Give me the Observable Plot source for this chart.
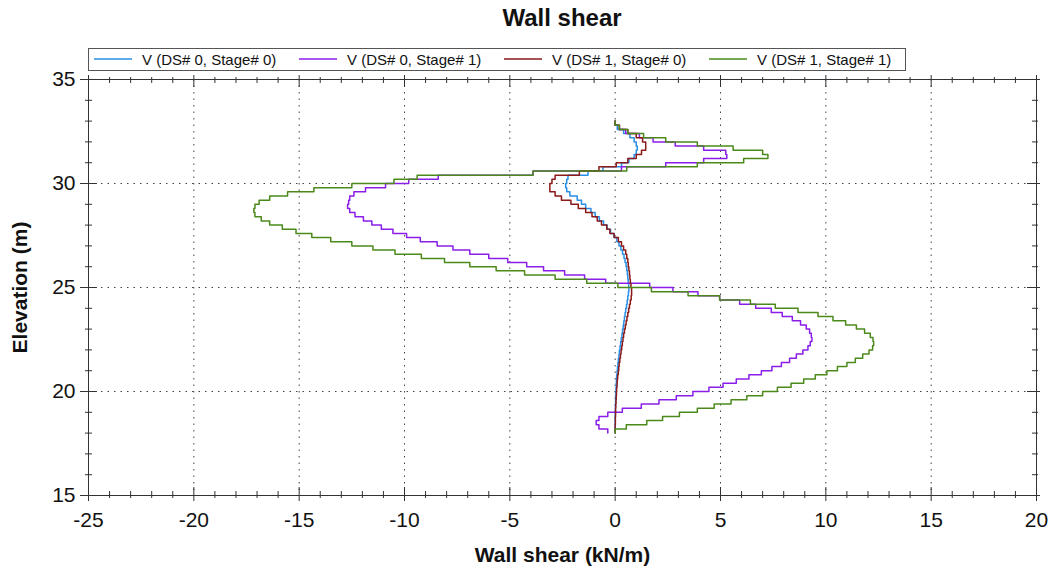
<!DOCTYPE html>
<html>
<head>
<meta charset="utf-8">
<script src="https://cdn.jsdelivr.net/npm/d3@7"></script>
<script src="https://cdn.jsdelivr.net/npm/@observablehq/plot@0.6"></script>
<style>
  html, body { margin: 0; padding: 0; background: #fff; }
  #wrap { position: relative; width: 1051px; height: 569px; font-family: "Liberation Sans", Arial, sans-serif; color: #111; }
  #chart { position: absolute; left: 0; top: 0; }
  #title { position: absolute; left: 0; top: 5px; width: 1124px; text-align: center; font-weight: bold; font-size: 24px; line-height: 26px; }
  #legend { position: absolute; left: 88px; top: 48px; width: 818px; height: 23px; box-sizing: border-box; border: 1px solid #555; background: #fff; }
  .lg-line { position: absolute; top: 9px; height: 2px; width: 38px; opacity: 0.75; }
  .lg-text { position: absolute; top: 2px; font-size: 15px; line-height: 17px; white-space: nowrap; }
</style>
</head>
<body>
<div id="wrap">
  <div id="chart"></div>
  <div id="title">Wall shear</div>
  <div id="legend"></div>
</div>
<script>
// Element top elevations (m), top of wall to toe
const elevations = [33,32.8,32.6,32.4,32.2,32,31.8,31.6,31.4,31.2,31,30.8,30.6,30.4,30.2,30,29.8,29.6,29.4,29.2,29,28.8,28.6,28.4,28.2,28,27.8,27.6,27.4,27.2,27,26.8,26.6,26.4,26.2,26,25.8,25.6,25.4,25.2,25,24.8,24.6,24.4,24.2,24,23.8,23.6,23.4,23.2,23,22.8,22.6,22.4,22.2,22,21.8,21.6,21.4,21.2,21,20.8,20.6,20.4,20.2,20,19.8,19.6,19.4,19.2,19,18.8,18.6,18.4,18.2,18];

const seriesNames = ["V (DS# 0, Stage# 0)", "V (DS# 0, Stage# 1)", "V (DS# 1, Stage# 0)", "V (DS# 1, Stage# 1)"];
const seriesColors = ["#2a8fe6", "#8a1ee8", "#8b1a1a", "#4b8a1a"];

// Wall shear (kN/m) for each element, top to bottom
const shearDS0Stage0 = [0,0.1,0.4,0.7,0.9,1.0,1.05,1.0,0.9,0.65,0.3,-0.58,-1.29,-2.24,-2.3,-2.35,-2.3,-2.15,-1.8,-1.6,-1.4,-1.15,-0.95,-0.75,-0.55,-0.38,-0.22,-0.05,0.08,0.18,0.27,0.35,0.42,0.47,0.52,0.55,0.58,0.6,0.62,0.64,0.65,0.63,0.6,0.57,0.54,0.5,0.47,0.44,0.41,0.38,0.35,0.32,0.29,0.26,0.23,0.2,0.18,0.15,0.13,0.11,0.09,0.07,0.06,0.05,0.04,0.03,0.02,0.02,0.01,0.01,0,0,0,0,0];
const shearDS0Stage1 = [0,0.2,0.5,1.15,1.8,2.85,4.2,5.25,5.3,4.2,2.4,0.3,-3.9,-8.4,-9.8,-10.9,-11.85,-12.4,-12.6,-12.65,-12.7,-12.6,-12.35,-11.95,-11.55,-11.1,-10.55,-9.9,-9.25,-8.45,-7.7,-6.9,-6.0,-5.1,-4.2,-3.4,-2.4,-1.45,-0.45,1.64,2.74,3.93,4.96,5.91,6.67,7.41,7.93,8.41,8.8,9.07,9.23,9.31,9.34,9.26,9.15,8.91,8.6,8.28,7.89,7.44,6.94,6.35,5.75,5.12,4.45,3.69,2.9,2.08,1.24,0.34,-0.35,-0.77,-0.9,-0.77,-0.35];
const shearDS1Stage0 = [0,0.2,0.6,1.0,1.3,1.45,1.45,1.25,1.0,0.6,0.05,-0.77,-1.7,-2.85,-3.0,-3.1,-3.1,-2.85,-2.55,-2.1,-1.75,-1.4,-1.1,-0.85,-0.65,-0.4,-0.25,-0.05,0.15,0.3,0.4,0.5,0.55,0.6,0.62,0.65,0.68,0.7,0.72,0.75,0.78,0.78,0.76,0.72,0.68,0.64,0.6,0.56,0.52,0.48,0.44,0.4,0.37,0.34,0.31,0.28,0.25,0.22,0.19,0.17,0.15,0.12,0.1,0.09,0.07,0.06,0.05,0.04,0.03,0.02,0.02,0.01,0.01,0,0];
const shearDS1Stage1 = [0,0.2,0.6,1.35,2.4,3.9,5.6,7.0,7.25,6.1,3.9,0.55,-3.9,-9.4,-10.5,-12.5,-14.3,-15.55,-16.4,-16.9,-17.1,-17.15,-17.1,-16.8,-16.4,-15.8,-15.15,-14.4,-13.5,-12.5,-11.5,-10.45,-9.2,-8.1,-6.9,-5.65,-4.3,-2.85,-1.35,0.13,1.72,3.46,4.96,6.42,7.6,8.68,9.63,10.34,10.94,11.45,11.84,12.11,12.24,12.27,12.22,12.05,11.75,11.4,11.0,10.55,10.05,9.5,8.95,8.35,7.7,7.0,6.25,5.5,4.7,3.9,3.05,2.25,1.5,0.53,0];

const xTicks = [-25,-20,-15,-10,-5,0,5,10,15,20];
const yTicks = [15,20,25,30,35];
const xGrid = [-20,-15,-10,-5,0,5,10,15];
const yGrid = [20,25,30];
const xMinor = d3.range(-25, 21, 1).filter(d => !xTicks.includes(d));
const yMinor = d3.range(15, 36, 1).filter(d => !yTicks.includes(d));

const allSeries = [shearDS0Stage0, shearDS0Stage1, shearDS1Stage0, shearDS1Stage1];
const rows = [];
allSeries.forEach((vals, s) => {
  vals.forEach((v, i) => rows.push({series: seriesNames[s], v, e: elevations[i]}));
  rows.push({series: seriesNames[s], v: vals[vals.length - 1], e: elevations[elevations.length - 1]});
});

const axisColor = "#333";
const chart = Plot.plot({
  width: 1051,
  height: 569,
  marginLeft: 88,
  marginRight: 15,
  marginTop: 79,
  marginBottom: 74,
  style: {fontFamily: "'Liberation Sans', Arial, sans-serif", background: "transparent", color: "#111"},
  x: {domain: [-25, 20]},
  y: {domain: [15, 35]},
  color: {domain: seriesNames, range: seriesColors},
  marks: [
    Plot.ruleX(xGrid, {stroke: "#444", strokeDasharray: "1.5,5"}),
    Plot.ruleY(yGrid, {stroke: "#444", strokeDasharray: "1.5,5"}),
    Plot.line(rows, {x: "v", y: "e", z: "series", stroke: "series", curve: "step-before", strokeWidth: 1.5}),
    Plot.frame({stroke: axisColor}),
    // bottom ticks
    Plot.ruleX(xTicks, {y1: 15, y2: 15, insetTop: -8, insetBottom: -6, stroke: axisColor}),
    Plot.ruleX(xMinor, {y1: 15, y2: 15, insetTop: -4, insetBottom: -3, stroke: axisColor}),
    // top ticks
    Plot.ruleX(xTicks, {y1: 35, y2: 35, insetTop: -4, insetBottom: -8, stroke: axisColor}),
    Plot.ruleX(xMinor, {y1: 35, y2: 35, insetTop: -2, insetBottom: -4, stroke: axisColor}),
    // left ticks
    Plot.ruleY(yTicks, {x1: -25, x2: -25, insetLeft: -8, insetRight: -9, stroke: axisColor}),
    Plot.ruleY(yMinor, {x1: -25, x2: -25, insetLeft: -3, insetRight: -4, stroke: axisColor}),
    // right ticks
    Plot.ruleY(yTicks, {x1: 20, x2: 20, insetLeft: -9, insetRight: -4, stroke: axisColor}),
    Plot.ruleY(yMinor, {x1: 20, x2: 20, insetLeft: -4, insetRight: -2, stroke: axisColor}),
    Plot.axisX(xTicks, {tickSize: 0, tickPadding: 17, fontSize: 21, tickFormat: d => String(d), label: null}),
    Plot.axisY(yTicks, {tickSize: 0, tickPadding: 13, fontSize: 21, tickFormat: d => String(d), label: null}),
    Plot.text(["Wall shear (kN/m)"], {frameAnchor: "bottom", dy: 60, lineAnchor: "middle", fontSize: 21, fontWeight: "bold"}),
    Plot.text(["Elevation (m)"], {frameAnchor: "left", dx: -68, rotate: -90, textAnchor: "middle", lineAnchor: "middle", fontSize: 21, fontWeight: "bold"})
  ]
});
document.getElementById("chart").appendChild(chart);

// Legend
const legend = document.getElementById("legend");
const lineLefts = [5, 210, 415, 620];
seriesNames.forEach((name, i) => {
  const ln = document.createElement("div");
  ln.className = "lg-line";
  ln.style.left = lineLefts[i] + "px";
  ln.style.background = seriesColors[i];
  legend.appendChild(ln);
  const tx = document.createElement("div");
  tx.className = "lg-text";
  tx.style.left = (lineLefts[i] + 48) + "px";
  tx.textContent = name;
  legend.appendChild(tx);
});
</script>
</body>
</html>
